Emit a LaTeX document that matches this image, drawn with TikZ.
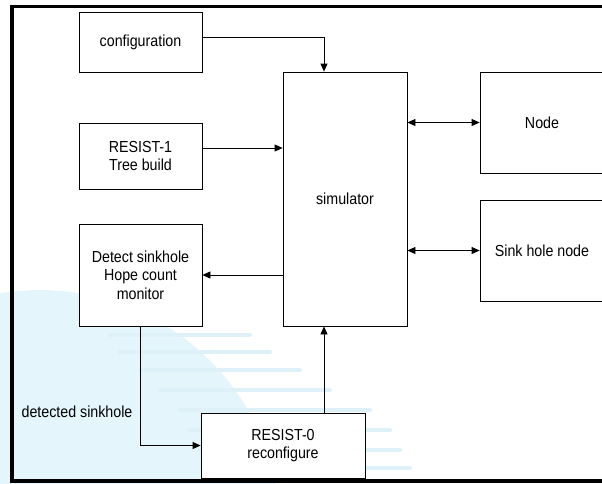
\documentclass[tikz,border=0pt]{standalone}
\usepackage{fontspec}
\setmainfont{Liberation Sans}[FakeStretch=0.89]
\usetikzlibrary{positioning, arrows.meta}

\definecolor{wmark}{RGB}{228,246,251}
\definecolor{wstreak}{RGB}{222,240,248}

\begin{document}
\begin{tikzpicture}[
    x=1pt, y=-1pt,
    box/.style={draw, rectangle, line width=0.8pt, font=\fontsize{16}{18.3}\selectfont, align=center, inner sep=0pt},
    lbl/.style={font=\fontsize{16}{18.3}\selectfont, inner sep=0pt},
    arr/.style={-{Triangle[length=8pt, width=7pt]}, line width=0.8pt},
    darr/.style={{Triangle[length=8pt, width=7pt]}-{Triangle[length=8pt, width=7pt]}, line width=0.8pt}
]
    \useasboundingbox (0,0) rectangle (602,483);

    % faint watermark in the background
    \begin{scope}
        \clip (0,0) rectangle (602,483);
        \fill[wmark] (40,530) circle (240);
        \foreach \y/\xa/\xb in {335/110/250, 352/120/270, 370/140/300, 390/160/330, 410/180/370, 430/190/390, 450/200/400, 468/210/410} {
            \draw[wstreak, line width=4pt, line cap=round] (\xa,\y) -- (\xb,\y);
        }
    \end{scope}

    % frame
    \draw[line width=3.5pt] (602,6.5) -- (12,6.5) -- (12,481) -- (602,481);

    % blocks
    \node[box, fill=white, minimum width=123pt, minimum height=60pt] (config) at (140.5,42) {configuration};
    \node[box, fill=white, minimum width=123pt, minimum height=66pt] (resist1) at (140.5,156) {RESIST-1\\Tree build};
    \node[box, fill=white, minimum width=123pt, minimum height=102pt] (detect) at (140.5,275) {Detect sinkhole\\Hope count\\monitor};
    \node[box, fill=white, minimum width=124pt, minimum height=254pt] (sim) at (345,199) {simulator};
    \node[box, fill=white, minimum width=124pt, minimum height=101pt] (nd) at (542,122.5) {Node};
    \node[box, fill=white, minimum width=124pt, minimum height=101pt] (sink) at (542,250.5) {Sink hole node};
    \node[box, fill=white, minimum width=164pt, minimum height=65pt] (resist0) at (283,445.5) {RESIST-0\\reconfigure};
    \node[lbl] (detlbl) at (77,412) {detected sinkhole};

    % connectors
    \draw[arr] ([yshift=5pt]config.east) -| ([xshift=-21pt]sim.north);
    \draw[arr] ([yshift=8pt]resist1.east) -- ([yshift=8pt]resist1.east -| sim.west);
    \draw[darr] (sim.east |- nd.west) -- (nd.west);
    \draw[darr] (sim.east |- sink.west) -- (sink.west);
    \draw[arr] (sim.west |- detect.east) -- (detect.east);
    \draw[arr] (detect.south) |- (resist0.west);
    \draw[arr] ([xshift=41pt]resist0.north) -- ([xshift=-21pt]sim.south);
\end{tikzpicture}
\end{document}
